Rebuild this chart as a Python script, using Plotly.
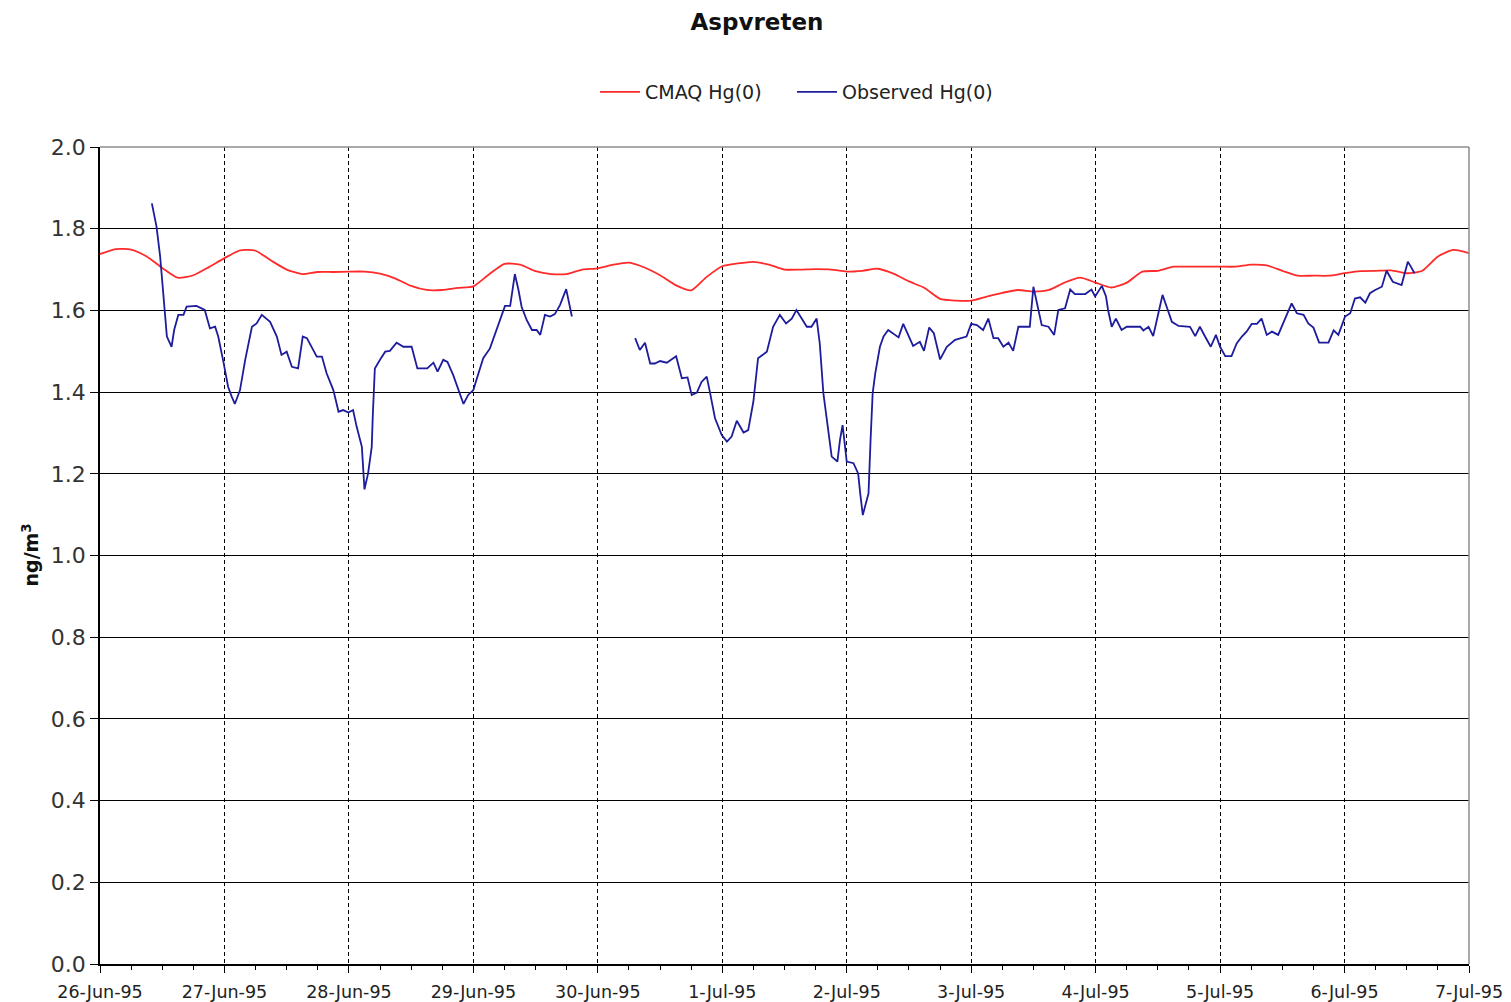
import plotly.graph_objects as go

# ---------------- data ----------------
day_labels = ["26-Jun-95", "27-Jun-95", "28-Jun-95", "29-Jun-95", "30-Jun-95", "1-Jul-95",
              "2-Jul-95", "3-Jul-95", "4-Jul-95", "5-Jul-95", "6-Jul-95", "7-Jul-95"]
day_hours = [0, 24, 48, 72, 96, 120, 144, 168, 192, 216, 240, 264]

# CMAQ Hg(0), 3-hourly from 26-Jun-95 00:00 (hours)
cmaq_hours = list(range(0, 265, 3))
cmaq_values = [
    1.738, 1.750, 1.749, 1.732, 1.704, 1.680, 1.686, 1.706, 1.728, 1.747,
    1.746, 1.722, 1.700, 1.689, 1.694, 1.694, 1.695, 1.695, 1.690, 1.678,
    1.660, 1.650, 1.650, 1.655, 1.659, 1.688, 1.714, 1.712, 1.696, 1.689,
    1.689, 1.700, 1.703, 1.712, 1.717, 1.705, 1.686, 1.662, 1.649, 1.682,
    1.708, 1.715, 1.719, 1.712, 1.700, 1.700, 1.701, 1.700, 1.695, 1.697,
    1.702, 1.690, 1.671, 1.655, 1.628, 1.624, 1.624, 1.634, 1.643, 1.650,
    1.646, 1.650, 1.668, 1.680, 1.668, 1.656, 1.668, 1.695, 1.697, 1.707,
    1.707, 1.707, 1.707, 1.707, 1.712, 1.710, 1.697, 1.685, 1.685, 1.685,
    1.691, 1.696, 1.697, 1.698, 1.691, 1.697, 1.732, 1.748, 1.740,
]

# Observed Hg(0) (hours since 26-Jun-95 00:00), None = missing data
obs_hours = [
    10.0, 10.9, 11.6, 12.2, 12.5, 12.9, 13.8, 14.3, 15.1, 16.1, 16.7, 18.6, 20.2, 21.2, 22.2,
    22.8, 23.8, 24.7, 25.4, 26.0, 27.0, 28.0, 29.3, 30.2, 31.2, 32.8, 34.1, 35.0, 36.0, 37.0,
    38.2, 39.1, 39.9, 41.8, 42.8, 43.7, 45.0, 46.0, 46.9, 47.9, 48.8, 49.5, 50.5, 50.8, 51.0,
    51.7, 52.4, 52.6, 53.0, 54.0, 55.0, 55.9, 57.2, 58.5, 60.1, 61.2, 63.1, 64.3, 65.1, 66.2,
    67.0, 68.1, 69.1, 70.1, 71.0, 72.0, 72.6, 73.9, 75.2, 76.2, 77.1, 78.1, 79.1, 79.6, 80.0,
    80.7, 81.3, 82.3, 83.3, 84.2, 84.9, 85.8, 86.8, 87.7, 88.7, 89.9, 90.5, 91.0,
    97.0,
    103.2, 104.1, 105.1, 106.1, 107.0, 108.0, 109.3, 111.1, 112.2, 113.3, 114.1, 115.1, 116.0,
    117.0, 117.6, 118.6, 119.9, 120.9, 121.8, 122.8, 124.1, 125.0, 126.0, 126.9, 128.6, 129.8,
    131.1, 132.3, 133.4, 134.3, 136.3, 137.2, 138.2, 138.8, 139.5, 140.4, 141.1, 142.2, 142.7,
    143.2, 144.0, 145.3, 146.2, 146.6, 147.1, 147.7, 148.2, 148.6, 149.0, 149.5, 150.4, 151.1,
    152.0, 154.0, 154.9, 156.8, 158.1, 158.9, 159.9, 160.8, 162.0, 163.3, 164.9, 167.1, 168.0,
    169.1, 170.3, 171.3, 172.3, 173.2, 174.2, 175.2, 176.1, 177.1, 179.3, 180.0, 181.6, 182.9,
    184.0, 184.8, 186.1, 187.1, 188.0, 190.0, 191.2, 191.9, 193.2, 194.0, 194.4, 195.1, 195.9,
    197.0, 198.0, 200.6, 201.2, 202.2, 203.1, 204.1, 204.9, 205.7, 206.7, 208.0, 210.2, 211.2,
    212.1, 213.1, 214.2, 215.2, 216.0, 217.0, 218.2, 219.2, 220.2, 221.1, 222.1, 223.1, 224.0,
    225.0, 226.0, 227.2, 228.5, 229.8, 230.8, 232.1, 233.0, 234.0, 235.1, 236.9, 237.9, 238.8,
    239.5, 240.1, 241.1, 242.0, 243.0, 244.0, 244.9, 245.9, 247.2, 248.1, 249.3, 251.0, 251.7,
    252.2, 252.7, 253.5,
]
obs_values = [
    1.862, 1.805, 1.732, 1.650, 1.601, 1.536, 1.511, 1.552, 1.589, 1.589, 1.609, 1.611, 1.601, 1.556, 1.560,
    1.536, 1.474, 1.413, 1.389, 1.371, 1.405, 1.479, 1.560, 1.568, 1.589, 1.572, 1.536, 1.491, 1.499, 1.462,
    1.458, 1.536, 1.532, 1.487, 1.487, 1.446, 1.405, 1.352, 1.356, 1.350, 1.356, 1.315, 1.266, 1.185, 1.162,
    1.201, 1.266, 1.340, 1.458, 1.479, 1.499, 1.501, 1.521, 1.511, 1.511, 1.458, 1.458, 1.472, 1.450, 1.479,
    1.474, 1.442, 1.405, 1.371, 1.393, 1.405, 1.430, 1.483, 1.507, 1.544, 1.576, 1.611, 1.611, 1.658, 1.689,
    1.650, 1.609, 1.576, 1.552, 1.552, 1.540, 1.589, 1.585, 1.591, 1.613, 1.652, 1.613, 1.585,
    None,
    1.532, 1.503, 1.521, 1.470, 1.470, 1.476, 1.472, 1.488, 1.434, 1.436, 1.393, 1.399, 1.425,
    1.438, 1.401, 1.336, 1.295, 1.279, 1.291, 1.330, 1.301, 1.307, 1.377, 1.483, 1.499, 1.560,
    1.589, 1.568, 1.580, 1.601, 1.560, 1.560, 1.580, 1.519, 1.397, 1.307, 1.242, 1.230, 1.283,
    1.319, 1.230, 1.226, 1.201, 1.152, 1.099, 1.128, 1.152, 1.283, 1.397, 1.446, 1.511, 1.536,
    1.552, 1.534, 1.567, 1.513, 1.523, 1.501, 1.558, 1.544, 1.480, 1.511, 1.528, 1.536, 1.567,
    1.564, 1.552, 1.580, 1.532, 1.532, 1.511, 1.521, 1.501, 1.560, 1.560, 1.658, 1.564, 1.560,
    1.540, 1.601, 1.605, 1.651, 1.640, 1.640, 1.651, 1.634, 1.660, 1.634, 1.601, 1.560, 1.580,
    1.552, 1.560, 1.560, 1.551, 1.560, 1.537, 1.593, 1.638, 1.609, 1.572, 1.562, 1.560, 1.537,
    1.560, 1.536, 1.511, 1.540, 1.511, 1.488, 1.488, 1.519, 1.536, 1.548, 1.567, 1.567, 1.580,
    1.540, 1.548, 1.540, 1.580, 1.617, 1.593, 1.589, 1.568, 1.558, 1.521, 1.521, 1.551, 1.540,
    1.564, 1.585, 1.593, 1.629, 1.632, 1.619, 1.642, 1.650, 1.658, 1.697, 1.670, 1.662, 1.695,
    1.719, 1.709, 1.691,
]

y_ticks = [0.0, 0.2, 0.4, 0.6, 0.8, 1.0, 1.2, 1.4, 1.6, 1.8, 2.0]
y_ticktext = ["%.1f" % v for v in y_ticks]

# ---------------- figure ----------------
FONT = "DejaVu Sans, Verdana, sans-serif"
W, H = 1511, 1002
ML, MR, MT, MB = 100, 42, 147, 38
PLOT_W = W - ML - MR
PLOT_H = H - MT - MB

fig = go.Figure()
fig.add_trace(go.Scatter(
    x=cmaq_hours, y=cmaq_values, mode="lines", name="CMAQ Hg(0)", legend="legend",
    line=dict(color="#ff2a2a", width=1.8, shape="spline", smoothing=0.6),
))
fig.add_trace(go.Scatter(
    x=obs_hours, y=obs_values, mode="lines", name="Observed Hg(0)", legend="legend2",
    line=dict(color="#1c1c9c", width=1.8), connectgaps=False,
))

legend_common = dict(orientation="h", xanchor="left", yanchor="middle",
                     y=1 + 55 / PLOT_H, font=dict(family=FONT, size=19, color="#222"),
                     itemwidth=40, bgcolor="rgba(0,0,0,0)")

fig.update_layout(
    width=W, height=H,
    margin=dict(l=ML, r=MR, t=MT, b=MB, autoexpand=False),
    paper_bgcolor="white", plot_bgcolor="white",
    font=dict(family=FONT, size=17, color="#222"),
    title=dict(text="<b>Aspvreten</b>", x=757 / W, xanchor="center",
               y=1 - 22 / H, yanchor="middle",
               font=dict(family=FONT, size=23, color="#111")),
    showlegend=True,
    legend=dict(x=(595 - ML) / PLOT_W, **legend_common),
    legend2=dict(x=(792 - ML) / PLOT_W, **legend_common),
    xaxis=dict(
        range=[0, 264], tickvals=day_hours, ticktext=day_labels, automargin=False,
        showgrid=True, gridcolor="black", gridwidth=1.3, griddash="4px,3px",
        showline=True, linecolor="black", linewidth=1.5,
        ticks="outside", ticklen=7, tickcolor="black", tickwidth=1.3, zeroline=False,
        ticklabelstandoff=4,
        minor=dict(dtick=6, tick0=0, ticks="outside", ticklen=4, tickcolor="black",
                   tickwidth=1.3, showgrid=False),
        tickfont=dict(family=FONT, size=17.5, color="#222"),
    ),
    yaxis=dict(
        range=[0, 2.0], tickvals=y_ticks, ticktext=y_ticktext, automargin=False,
        showgrid=True, gridcolor="black", gridwidth=1.4,
        showline=True, linecolor="black", linewidth=1.5,
        ticks="outside", ticklen=8, tickcolor="black", tickwidth=1.4, zeroline=False,
        tickfont=dict(family=FONT, size=22, color="#333"),
    ),
)

# gray frame on top and right
fig.add_shape(type="line", xref="paper", yref="paper", x0=0, x1=1, y0=1, y1=1,
              line=dict(color="#8c8c8c", width=1.5), layer="above")
fig.add_shape(type="line", xref="paper", yref="paper", x0=1, x1=1, y0=0, y1=1,
              line=dict(color="#8c8c8c", width=1.5), layer="above")

# y-axis title
fig.add_annotation(text="<b>ng/m<sup>3</sup></b>", xref="paper", yref="paper",
                   x=-(ML - 30) / PLOT_W, y=0.5, xanchor="center", yanchor="middle",
                   textangle=-90, showarrow=False,
                   font=dict(family=FONT, size=19, color="#111"))

# remove the default page margin so the figure fills the 1511x1002 window exactly
fig.write_html("out.html",
               config={"displayModeBar": False},
               post_script="document.body.style.margin='0px';document.body.style.overflow='hidden';")
